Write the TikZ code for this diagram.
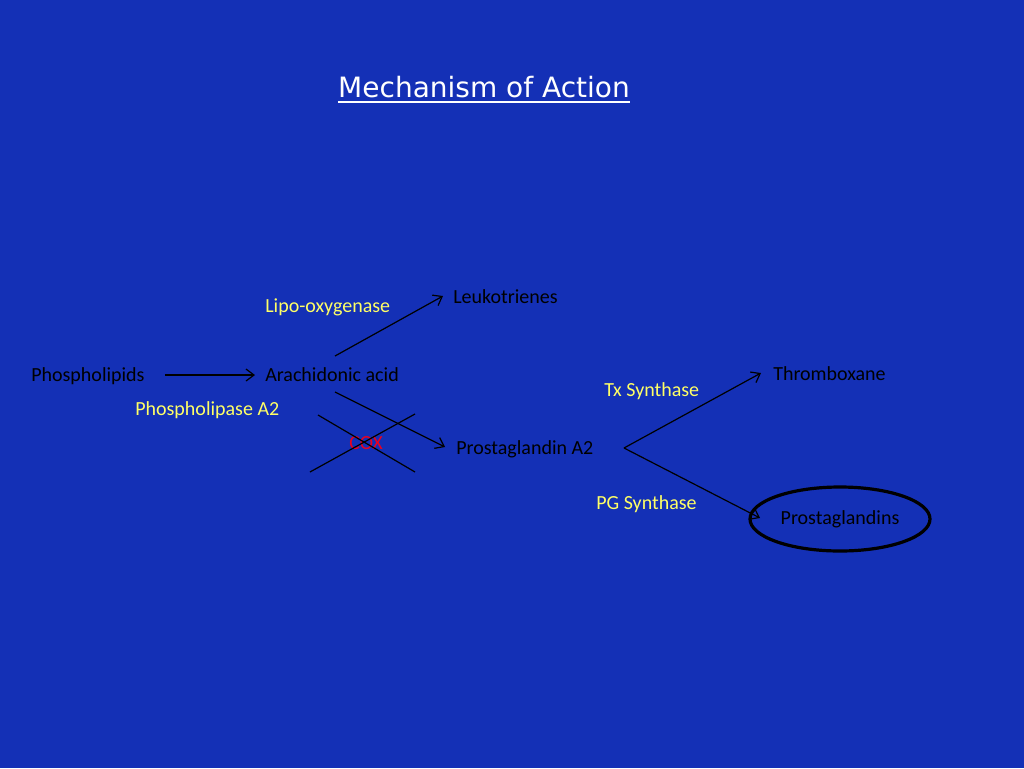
\documentclass[tikz,border=0pt]{standalone}
\usepackage{fontspec}
\setmainfont{Carlito}
\newfontfamily\titlefont{DejaVu Sans}
\usetikzlibrary{arrows.meta,shapes.geometric,calc}
\definecolor{bgblue}{RGB}{20,48,182}
\definecolor{enzyme}{RGB}{255,255,102}
\definecolor{coxred}{RGB}{235,0,30}
\tikzset{
  txt/.style={inner sep=0pt, anchor=base west, font=\fontsize{15}{18}\selectfont, text=black},
  enz/.style={txt, text=enzyme},
  arr/.style={draw=black, line width=0.9pt, -{Straight Barb[length=6pt,width=9pt]}},
  cross/.style={draw=black, line width=0.9pt}
}
\begin{document}
\begin{tikzpicture}[x=0.75pt,y=-0.75pt]
\fill[bgblue] (0,0) rectangle (1024,768);
\useasboundingbox (0,0) rectangle (1024,768);
% title
\node[inner sep=0pt, anchor=base, text=white, font=\titlefont\fontsize{21}{25}\selectfont] (title) at (484,97) {Mechanism of Action};
\draw[white, line width=1.5pt] ($(title.base west)+(0,4.5)$) -- ($(title.base east)+(0,4.5)$);
% nodes
\node[txt] (phos) at (31,381) {Phospholipids};
\node[txt] (arach) at (265,381) {Arachidonic acid};
\node[enz] (pla) at (135,415) {Phospholipase A2};
\node[enz] (lipo) at (265,312) {Lipo-oxygenase};
\node[txt] (leuk) at (453,303) {Leukotrienes};
\node[txt] (pga) at (456,454) {Prostaglandin A2};
\node[txt, text=coxred] (cox) at (349,449) {COX};
\node[txt] (thromb) at (773,380) {Thromboxane};
\node[enz] (tx) at (604,396) {Tx Synthase};
\node[enz] (pgs) at (596,509) {PG Synthase};
\node[ellipse, draw=black, line width=2.4pt, minimum width=135pt, minimum height=48pt, inner sep=0pt,
      font=\fontsize{15}{18}\selectfont, text=black] (pg) at (840,519) {\raisebox{0pt}{Prostaglandins}};
% endpoints
\coordinate (lstart) at (335,356);
\coordinate (lend) at (443,296);
\coordinate (cstart) at (335,392);
\coordinate (cend) at (445,447);
\coordinate (fork) at (624,448);
\coordinate (tend) at (761,373);
\coordinate (pend) at (760,518);
% connectors
\draw[arr] (phos.east |- 0,375) ++(20,0) coordinate (pstart) -- (255,375) coordinate (parr);
\draw[arr] (lstart) -- (lend);
\draw[arr] (cstart) -- (cend);
\draw[arr] (fork) -- (tend);
\draw[arr] (fork) -- (pend);
% cross over COX
\draw[cross] (318,415) -- (415,472);
\draw[cross] (310,472) -- (415,414);
\end{tikzpicture}
\end{document}
